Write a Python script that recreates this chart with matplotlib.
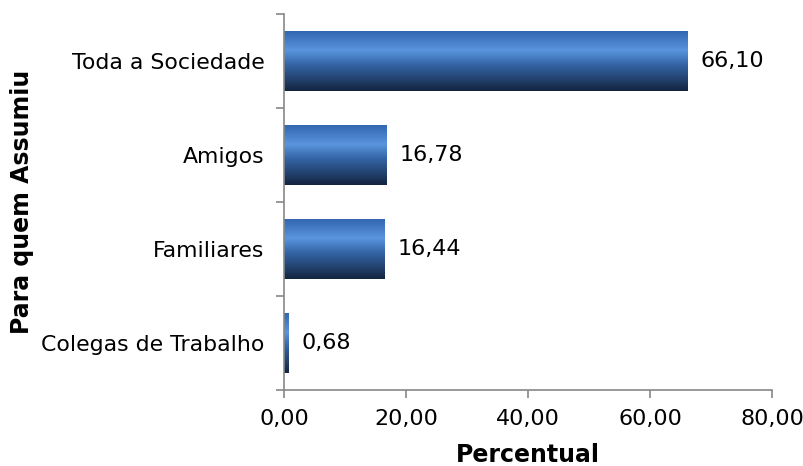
import matplotlib
matplotlib.use("Agg")
import matplotlib.pyplot as plt
import numpy as np
from matplotlib.colors import LinearSegmentedColormap

categories = ["Colegas de Trabalho", "Familiares", "Amigos", "Toda a Sociedade"]
values = [0.68, 16.44, 16.78, 66.10]
xticks = [0, 20, 40, 60, 80]

plt.rcParams['font.family'] = ['DejaVu Sans']

fig = plt.figure(figsize=(8.04, 4.66), dpi=100)
ax = fig.add_axes([0.3532, 0.1631, 0.6070, 0.807])

cmap = LinearSegmentedColormap.from_list(
    "bar", [(0.0, "#3266b0"), (0.32, "#5a95de"), (0.55, "#3566a8"), (0.8, "#23426f"), (1.0, "#13243f")])
grad = np.linspace(0, 1, 256).reshape(-1, 1)

h = 0.63
for i, v in enumerate(values):
    y0, y1 = i - h / 2, i + h / 2
    ax.imshow(grad, cmap=cmap, aspect='auto', extent=[0, v, y0, y1],
              origin='upper', zorder=2, interpolation='bilinear')
    ax.text(v + 2.2, i, f"{v:.2f}".replace('.', ','), va='center', ha='left',
            fontsize=16, color='black')

ax.set_xlim(0, 80)
ax.set_ylim(-0.5, len(categories) - 0.5)
ax.set_xticks(xticks)
ax.set_xticklabels([f"{t:.2f}".replace('.', ',') for t in xticks], fontsize=16)
ax.set_yticks(range(len(categories)))
ax.set_yticklabels(categories, fontsize=15.8)
ax.set_yticks(np.arange(-0.5, len(categories), 1), minor=True)
ax.tick_params(axis='y', which='major', length=0, pad=14)
ax.tick_params(axis='y', which='minor', length=6, color='#888888', width=1.2, direction='out')
ax.tick_params(axis='x', length=6, color='#888888', width=1.2, direction='out', pad=8)

for s in ['top', 'right']:
    ax.spines[s].set_visible(False)
for s in ['left', 'bottom']:
    ax.spines[s].set_color('#888888')
    ax.spines[s].set_linewidth(1.2)

ax.set_xlabel("Percentual", fontsize=17, fontweight='bold', labelpad=10)
ax.set_ylabel("Para quem Assumiu", fontsize=17, fontweight='bold', labelpad=5)

fig.savefig("out.png", dpi=100)
